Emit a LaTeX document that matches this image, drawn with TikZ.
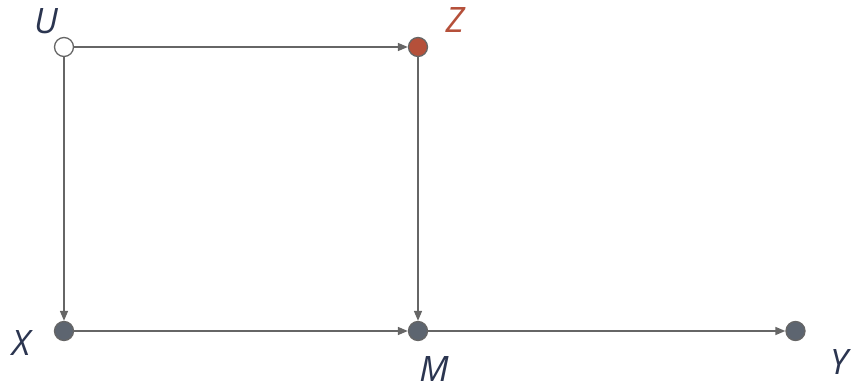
\documentclass[tikz,border=0pt]{standalone}
\usepackage{fontspec}
\setmainfont{Open Sans}
\usetikzlibrary{arrows.meta}
\definecolor{edgegray}{HTML}{666666}
\definecolor{nodefill}{HTML}{5D6570}
\definecolor{labelnavy}{HTML}{2B3550}
\definecolor{zred}{HTML}{B5503A}
\tikzset{
  var/.style={circle, draw=edgegray, line width=1.3pt, fill=nodefill, minimum size=19pt, inner sep=0pt},
  lab/.style={font=\fontsize{35}{35}\selectfont\itshape, text=labelnavy, inner sep=0pt},
  conn/.style={draw=edgegray, line width=1.6pt, -{Triangle[length=10pt,width=8pt]}}
}
\begin{document}
\begin{tikzpicture}[x=1pt,y=-1pt]
\useasboundingbox (0,0) rectangle (852,391);
\node[var, fill=white] (U) at (64,47) {};
\node[var, fill=zred] (Z) at (418,47) {};
\node[var] (X) at (64,331) {};
\node[var] (M) at (418,331) {};
\node[var] (Y) at (795.5,331) {};
\node[lab] (lU) at (46,21) {U};
\node[lab, text=zred] (lZ) at (455,20) {Z};
\node[lab] (lX) at (21,343) {X};
\node[lab] (lM) at (434,369) {M};
\node[lab] (lY) at (839,362) {Y};
\draw[conn] (U) -- (Z);
\draw[conn] (U) -- (X);
\draw[conn] (Z) -- (M);
\draw[conn] (X) -- (M);
\draw[conn] (M) -- (Y);
\end{tikzpicture}
\end{document}
